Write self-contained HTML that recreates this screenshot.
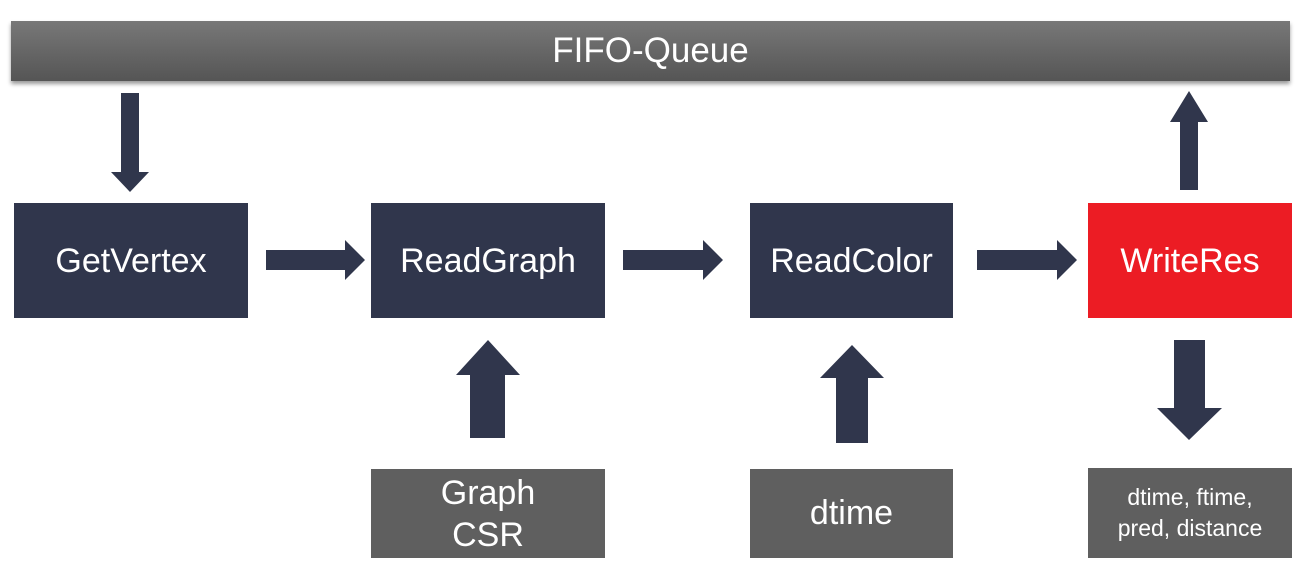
<!DOCTYPE html>
<html><head><style>
body{margin:0;width:1295px;height:572px;background:#fff;position:relative;overflow:hidden;font-family:"Liberation Sans",sans-serif}
.b{position:absolute;display:flex;align-items:center;justify-content:center;color:#fff;text-align:center}
.n{background:#30364c;font-size:34px;padding-top:2px;box-sizing:border-box}
.g{background:#5f5f5f}
</style></head><body>
<div class="b" style="left:11px;top:21px;width:1279px;height:60px;background:linear-gradient(#787878,#555);box-shadow:0 3px 4px rgba(0,0,0,.4);font-size:35px">FIFO-Queue</div>
<div class="b n" style="left:14px;top:203px;width:234px;height:115px">GetVertex</div>
<div class="b n" style="left:371px;top:203px;width:234px;height:115px">ReadGraph</div>
<div class="b n" style="left:750px;top:203px;width:203px;height:115px">ReadColor</div>
<div class="b n" style="left:1088px;top:203px;width:204px;height:115px;background:#ec1c24">WriteRes</div>
<div class="b g" style="left:371px;top:469px;width:234px;height:89px;font-size:34px;line-height:42px">Graph<br>CSR</div>
<div class="b g" style="left:750px;top:469px;width:203px;height:89px;font-size:34px">dtime</div>
<div class="b g" style="left:1088px;top:468px;width:204px;height:90px;font-size:23px;line-height:31px">dtime, ftime,<br>pred, distance</div>
<svg width="1295" height="572" style="position:absolute;left:0;top:0" fill="#30364c">
<polygon points="121,93 139,93 139,172 149,172 130,192 111,172 121,172"/>
<polygon points="266,250 345,250 345,240 365,260 345,280 345,270 266,270"/>
<polygon points="623,250 703,250 703,240 723,260 703,280 703,270 623,270"/>
<polygon points="977,250 1057,250 1057,240 1077,260 1057,280 1057,270 977,270"/>
<polygon points="470,438 505,438 505,375 520,375 488,340 456,375 470,375"/>
<polygon points="836,443 868,443 868,378 884,378 852,345 820,378 836,378"/>
<polygon points="1180,190 1198,190 1198,122 1208,122 1189,91 1170,122 1180,122"/>
<polygon points="1174,340 1205,340 1205,408 1222,408 1189,440 1157,408 1174,408"/>
</svg>
</body></html>
